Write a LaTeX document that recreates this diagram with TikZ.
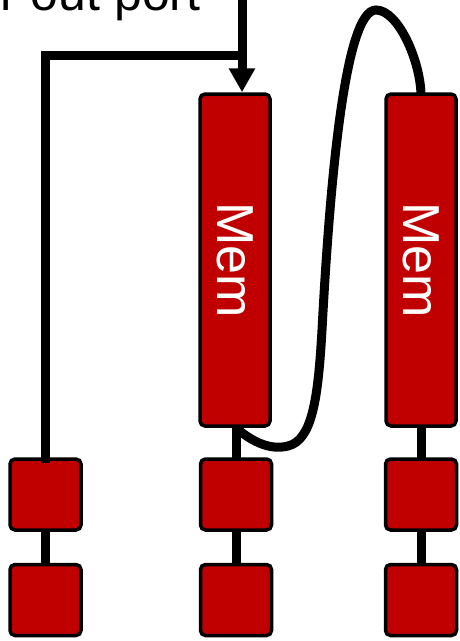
\documentclass[tikz,border=0pt]{standalone}
\usepackage{fontspec}
\setmainfont{Liberation Sans}
\usepackage{graphicx}
\usetikzlibrary{arrows.meta,positioning}
\definecolor{memred}{RGB}{192,0,0}

\begin{document}
\begin{tikzpicture}[x=1pt,y=-1pt,>={Triangle[length=24pt,width=25pt]},
    mem/.style={draw=black,fill=memred,line width=3.5pt,rounded corners=5pt,minimum width=70pt,minimum height=332pt,inner sep=0pt,text=white,font=\fontsize{52}{52}\selectfont},
    blk/.style={draw=black,fill=memred,line width=3.5pt,rounded corners=5pt,minimum size=71pt,inner sep=0pt},
    wire/.style={line width=9pt}]
  \useasboundingbox (0,0) rectangle (459,641);
  % port label, cut by the page edge
  \node[anchor=base east,font=\fontsize{50}{50}\selectfont] (outport) at (204,10) {r out port};
  % two memories and the blocks below them
  \coordinate (mema-c) at (235,260);
  \coordinate (memb-c) at (421,260);
  % wires behind the boxes
  \draw[wire] (45.5,494.5) -- (45.5,600);
  \draw[wire] (236,260) -- (236,600);
  \draw[wire] (421,260) -- (421,600);
  % loop from the first memory to the second
  \draw[wire] (236,428) .. controls (255,444) and (272,450) .. (288,446)
    .. controls (312,440) and (318,400) .. (322,330)
    .. controls (330,180) and (345,10) .. (376,10)
    .. controls (398,10) and (420,60) .. (421,94);
  \node[mem] (mema) at (mema-c) {\rotatebox{-90}{Mem}};
  \node[mem] (memb) at (memb-c) {\rotatebox{-90}{Mem}};
  \node[blk] (blka1) at (45.5,494.5) {};
  \node[blk] (blka2) at (45.5,600) {};
  \node[blk] (blkb1) at (236,494.5) {};
  \node[blk] (blkb2) at (236,600) {};
  \node[blk] (blkc1) at (421,494.5) {};
  \node[blk] (blkc2) at (421,600) {};
  % feed arrow and the wire that joins it
  \coordinate (feed) at (242,-6);
  \coordinate (join) at (242,55);
  \draw[wire,->] (feed) -- ([xshift=7pt]mema.north);
  \draw[wire] ([yshift=-6pt]blka1.north) |- (join);
\end{tikzpicture}
\end{document}
